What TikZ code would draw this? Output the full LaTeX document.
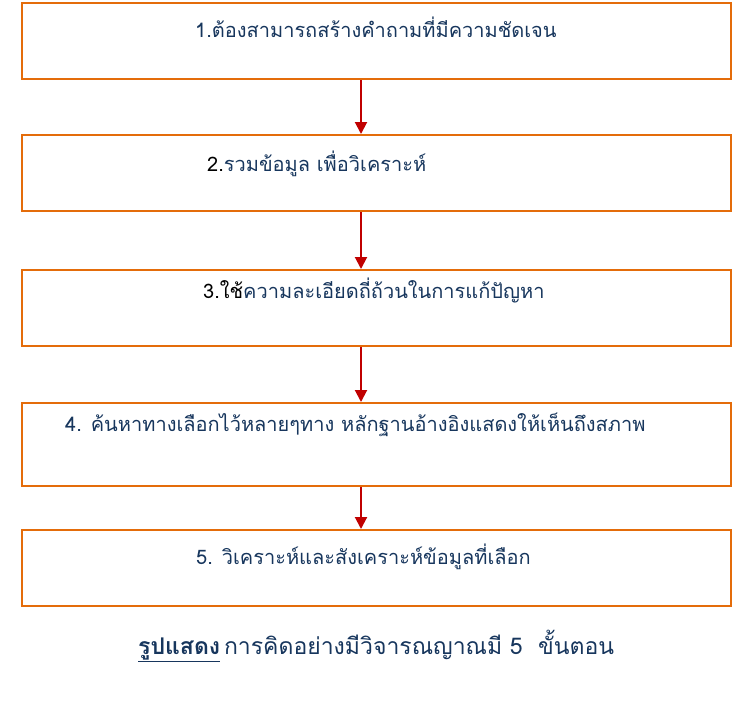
\documentclass[tikz,border=0pt]{standalone}
\usepackage{fontspec}
\newfontfamily\thaifont[Script=Thai]{Loma}
\usetikzlibrary{arrows.meta}
\definecolor{boxorange}{HTML}{E46C0A}
\definecolor{arrowred}{HTML}{C00000}
\definecolor{textnavy}{HTML}{17365D}

\begin{document}
\begin{tikzpicture}[x=1pt,y=-1pt,
  stepbox/.style={draw=boxorange,line width=2pt,minimum width=709pt,inner sep=0pt},
  steptext/.style={anchor=base west,text=textnavy,inner sep=0pt,
    font=\thaifont\fontsize{20}{24}\selectfont},
  steparrow/.style={arrowred,line width=2pt,-{Triangle[width=12pt,length=12pt]}}]
  \useasboundingbox (0,0) rectangle (755,716);
  % boxes
  \node[stepbox,minimum height=76pt] (b1) at (376.5,41) {};
  \node[stepbox,minimum height=76pt] (b2) at (376.5,173) {};
  \node[stepbox,minimum height=76pt] (b3) at (376.5,308) {};
  \node[stepbox,minimum height=83pt] (b4) at (376.5,444.5) {};
  \node[stepbox,minimum height=76pt] (b5) at (376.5,568) {};
  % texts
  \node[steptext] (t1) at (195,37) {1.ต้องสามารถสร้างคำถามที่มีความชัดเจน};
  \node[steptext] (t2) at (207,171) {\textcolor{black}{2.}รวมข้อมูล เพื่อวิเคราะห์};
  \node[steptext] (t3) at (203,298) {\textcolor{black}{3.ใช้}ความละเอียดถี่ถ้วนในการแก้ปัญหา};
  \node[steptext] (t4) at (65,431) {4. ค้นหาทางเลือกไว้หลายๆทาง หลักฐานอ้างอิงแสดงให้เห็นถึงสภาพ};
  \node[steptext] (t5) at (196,564) {5. วิเคราะห์และสังเคราะห์ข้อมูลที่เลือก};
  % caption
  \node[steptext,font=\thaifont\fontsize{23}{28}\selectfont] (cap) at (138,654)
    {\underline{\textbf{รูปแสดง}}\,การคิดอย่างมีวิจารณญาณมี 5 \ ขั้นตอน};
  % arrows (left of centre, as drawn)
  \draw[steparrow] ([xshift=-15.5pt]b1.south) -- ([xshift=-15.5pt]b2.north);
  \draw[steparrow] ([xshift=-15.5pt]b2.south) -- ([xshift=-15.5pt]b3.north);
  \draw[steparrow] ([xshift=-15.5pt]b3.south) -- ([xshift=-15.5pt]b4.north);
  \draw[steparrow] ([xshift=-15.5pt]b4.south) -- ([xshift=-15.5pt]b5.north);
\end{tikzpicture}
\end{document}
